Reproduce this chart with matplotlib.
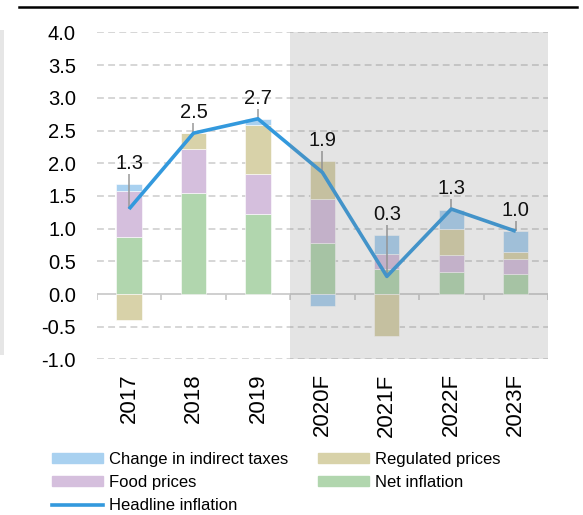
import numpy as np
import matplotlib
matplotlib.use("Agg")
import matplotlib.pyplot as plt
from matplotlib.lines import Line2D
from matplotlib.patches import Patch, Rectangle

plt.rcParams['font.family'] = ['Liberation Sans', 'DejaVu Sans']
plt.rcParams['axes.unicode_minus'] = False

years = ["2017", "2018", "2019", "2020F", "2021F", "2022F", "2023F"]
net_inflation = [0.87, 1.55, 1.22, 0.78, 0.39, 0.34, 0.31]
food_prices = [0.71, 0.67, 0.62, 0.68, 0.22, 0.25, 0.22]
regulated_prices = [-0.39, 0.24, 0.75, 0.58, -0.64, 0.41, 0.12]
indirect_taxes = [0.10, 0.0, 0.09, -0.19, 0.29, 0.29, 0.31]
headline = [1.30, 2.46, 2.68, 1.86, 0.27, 1.30, 0.96]
n_actual = 3  # first three years are actual, rest forecast

c_tax = '#a9d1f0'
c_reg = '#d8d2a9'
c_food = '#d5bfdd'
c_net = '#b1d6ae'
c_line = '#3399dd'

fig = plt.figure(figsize=(5.83, 5.15), dpi=100)
ax = fig.add_axes([0.166, 0.302, 0.774, 0.635])

x = np.arange(len(years))
w = 0.39

# stack positive parts upward and negative parts downward
pos = np.zeros(len(years))
neg = np.zeros(len(years))
for vals, col in [(net_inflation, c_net), (food_prices, c_food),
                  (regulated_prices, c_reg), (indirect_taxes, c_tax)]:
    vals = np.array(vals)
    bottom = np.where(vals >= 0, pos, neg)
    ax.bar(x, vals, w, bottom=bottom, color=col, edgecolor='white',
           linewidth=0.4, zorder=2)
    pos = pos + np.clip(vals, 0, None)
    neg = neg + np.clip(vals, None, 0)

ax.plot(x, headline, color=c_line, lw=2.6, zorder=5, solid_capstyle='butt')

# labels with small leader lines
for i, h in enumerate(headline):
    top = max(pos[i], h) + 0.17
    ax.vlines(x[i], h, top - 0.02, color='#999999', lw=1.1, zorder=4)
    ax.text(x[i], top, f"{h:.1f}", ha='center', va='bottom', fontsize=14.5,
            color='#111111', zorder=8)

# forecast shading
ax.axvspan(n_actual - 0.5, len(years) - 0.5, color='#808080', alpha=0.21,
           lw=0, zorder=6)

ax.set_xlim(-0.5, len(years) - 0.5)
ax.set_ylim(-1.0, 4.0)
ax.set_yticks(np.arange(-1.0, 4.01, 0.5))
ax.set_yticklabels([f"{v:.1f}" for v in np.arange(-1.0, 4.01, 0.5)])
ax.set_xticks(x)
ax.set_xticklabels(years, rotation=90)
ax.tick_params(axis='y', length=0, pad=15, labelsize=14.5)
ax.tick_params(axis='x', length=0, pad=10, labelsize=16)
for s in ax.spines.values():
    s.set_visible(False)

for v in np.arange(-1.0, 4.01, 0.5):
    if abs(v) > 1e-9:
        ax.axhline(v, color='#cccccc', lw=1.1, dashes=(4.5, 2.8), zorder=1)
ax.axhline(0, color='#cccccc', lw=1.3, zorder=1)
ax.vlines(np.arange(-0.5, len(years)), -0.09, 0, color='#cccccc', lw=1.3, zorder=1)

# decorations around the chart
fig.add_artist(Line2D([19 / 583, 577 / 583], [1 - 7 / 515, 1 - 7 / 515],
                      color='black', lw=1.8))
fig.add_artist(Rectangle((0, 1 - 355 / 515), 4 / 583, 325 / 515,
                         color='#e6e6e6', lw=0))

handles = [Patch(color=c_tax), Patch(color=c_food),
           Line2D([0], [0], color=c_line, lw=2.6),
           Patch(color=c_reg), Patch(color=c_net)]
labels = ["Change in indirect taxes", "Food prices", "Headline inflation",
          "Regulated prices", "Net inflation"]
fig.legend(handles, labels, loc='upper left', bbox_to_anchor=(52 / 583, 1 - 452 / 515),
           ncol=2, frameon=False, fontsize=12, handlelength=3.05, handleheight=0.48,
           handletextpad=0.36, columnspacing=1.8, labelspacing=0.48,
           borderpad=0, borderaxespad=0)

fig.savefig("out.png", dpi=100)
